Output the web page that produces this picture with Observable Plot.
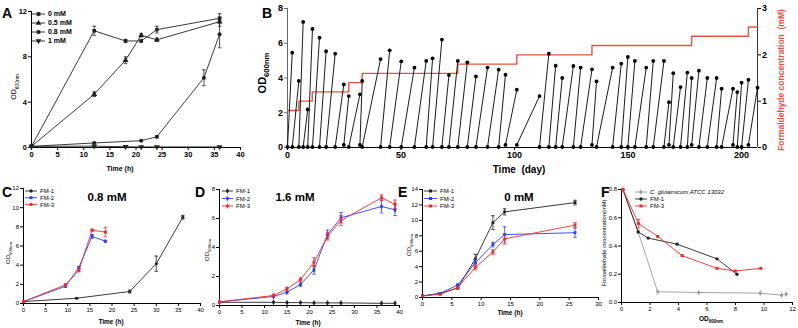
<!DOCTYPE html>
<html><head><meta charset="utf-8">
<script src="https://cdn.jsdelivr.net/npm/d3@7"></script>
<script src="https://cdn.jsdelivr.net/npm/@observablehq/plot@0.6"></script>
<style>
body{margin:0;background:#fff;}
#root{position:relative;width:798px;height:328px;overflow:hidden;background:#fff;}
</style></head><body><div id="root"></div>
<script>
// ---------- Panel A: OD600 vs time at formaldehyde levels ----------
const aTime = [0, 12, 18, 21, 24, 36];
const a0mM = [0.1, 10.3, 9.4, 9.4, 10.4, 11.4];
const a0mMErr = [0, 0.4, 0.15, 0.1, 0.3, 0.4];
const a05mM = [0.1, 4.7, 7.7, 9.9, 9.5, 11.1];
const a05mMErr = [0, 0.2, 0.3, 0.15, 0.15, 0.4];
const a08mMTime = [0, 12, 21, 24, 33, 36];
const a08mM = [0.1, 0.4, 0.6, 0.95, 6.15, 10.0];
const a08mMErr = [0, 0.05, 0.05, 0.1, 0.7, 1.2];
const a1mM = [0.1, 0.12, 0.06, 0.05, 0.05, 0.05];
const aLegend = ["0 mM", "0.5 mM", "0.8 mM", "1 mM"];

// ---------- Panel B: serial transfers ----------
const bEndDay = [2.1,5.0,6.9,8.9,11.0,14.1,17.0,21.0,24.8,27.0,
  31.9,32.9,41.0,45.0,50.1,55.9,61.1,63.9,68.0,71.1,
  75.0,79.2,83.0,88.1,93.0,96.0,101.0,111.0,115.1,118.1,
  121.0,125.9,129.1,134.1,136.1,143.2,147.0,149.9,153.0,158.0,
  161.1,165.8,168.0,169.9,173.1,176.1,178.0,181.2,184.9,189.0,
  191.2,196.2,198.1,200.0,203.0,207.0];
const bPeakOD = [5.46,3.83,7.23,2.19,6.82,6.32,5.54,5.40,3.63,2.96,
  3.06,3.83,5.09,5.59,4.96,4.60,4.98,5.13,6.21,4.17,
  4.98,4.90,4.09,4.60,4.48,4.19,3.33,2.96,5.40,4.71,
  4.00,4.69,4.60,4.50,3.81,4.60,4.83,5.21,4.98,4.60,
  4.98,4.98,2.61,4.28,3.48,4.31,4.00,4.42,4.00,4.00,
  3.38,3.38,3.19,3.73,3.90,3.44];
const bStartOD = [0.03,0.03,0.03,0.03,0.03,0.03,0.03,0.03,0.03,0.15,
  0.03,0.15,0.03,0.03,0.03,0.03,0.03,0.03,0.03,0.03,
  0.03,0.03,0.03,0.03,0.03,0.03,0.15,0.15,0.03,0.03,
  0.03,0.03,0.03,0.03,0.15,0.03,0.03,0.03,0.03,0.03,
  0.03,0.03,0.03,0.15,0.03,0.03,0.03,0.15,0.03,0.03,
  0.03,0.03,0.15,0.03,0.03,0.15];
const bConcDay = [0, 5.0, 10.9, 27.0, 32.9, 75.0, 101.0, 134.1, 178.0, 203.0, 207.0];
const bConc = [0.8, 1.0, 1.2, 1.4, 1.6, 1.8, 2.0, 2.2, 2.4, 2.6, 2.6];

// ---------- Panel C: 0.8 mM ----------
const cFM1Time = [0, 12, 24, 30, 36];
const cFM1 = [0.2, 0.55, 1.25, 4.15, 9.0];
const cFM1Err = [0, 0.05, 0.15, 0.8, 0.2];
const cFM23Time = [0, 9.5, 12.5, 15.5, 18.5];
const cFM2 = [0.2, 1.8, 3.75, 7.0, 6.5];
const cFM2Err = [0, 0.1, 0.1, 0.2, 0.1];
const cFM3 = [0.2, 1.95, 3.45, 7.65, 7.45];
const cFM3Err = [0, 0.1, 0.15, 0.1, 0.5];

// ---------- Panel D: 1.6 mM ----------
const dTime = [0, 12, 15, 18, 21, 24, 27, 36, 39];
const dFM1 = [0.22, 0.22, 0.2, 0.2, 0.18, 0.18, 0.18, 0.15, 0.15];
const dFM2 = [0.25, 0.62, 0.92, 1.45, 2.46, 4.9, 6.05, 6.83, 6.6];
const dFM2Err = [0, 0.05, 0.05, 0.1, 0.3, 0.3, 0.35, 0.45, 0.4];
const dFM3 = [0.25, 0.69, 1.15, 1.79, 2.99, 4.76, 5.86, 7.43, 6.97];
const dFM3Err = [0, 0.05, 0.08, 0.1, 0.3, 0.25, 0.35, 0.2, 0.3];

// ---------- Panel E: 0 mM ----------
const eTime = [0, 3, 6, 9, 12, 14, 26];
const eFM1 = [0.2, 0.53, 1.22, 5.0, 9.7, 11.1, 12.3];
const eFM1Err = [0, 0.05, 0.1, 0.6, 0.9, 0.4, 0.3];
const eFM2 = [0.2, 0.53, 1.63, 4.49, 6.86, 8.16, 8.4];
const eFM2Err = [0, 0.05, 0.1, 0.4, 0.3, 1.0, 0.6];
const eFM3 = [0.2, 0.41, 1.3, 3.88, 5.9, 7.6, 9.39];
const eFM3Err = [0, 0.05, 0.1, 0.3, 0.3, 0.7, 0.3];

// ---------- Panel F: formaldehyde vs OD ----------
const fWtOD = [0.1, 1.17, 2.54, 5.42, 9.74, 11.23, 11.56];
const fWt = [0.8, 0.5, 0.076, 0.071, 0.066, 0.052, 0.059];
const fFM1OD = [0.1, 1.17, 1.87, 3.9, 6.7, 8.1];
const fFM1 = [0.8, 0.5, 0.456, 0.413, 0.309, 0.2];
const fFM3OD = [0.1, 1.2, 2.54, 4.25, 6.7, 7.98, 9.78];
const fFM3 = [0.8, 0.558, 0.468, 0.332, 0.242, 0.223, 0.242];
const fFM3Err = [0, 0.03, 0, 0, 0, 0, 0];

// tick values
const ticks40 = [0,5,10,15,20,25,30,35,40];
const ticks30 = [0,5,10,15,20,25,30];

// ---------- helpers ----------
const root = document.getElementById("root");
const W = 798, H = 328;
const FONT = '"Liberation Sans", Arial, Helvetica, sans-serif';
const BLUE = "#2b3cf6", RED = "#f22a2a", GREY = "#9a9a9a", ORANGE = "#e8523c";
const sqrt3 = Math.sqrt(3);
const capSym = {draw(ctx, size) { const r = Math.sqrt(size / Math.PI); ctx.moveTo(-r, 0); ctx.lineTo(r, 0); }};
const triDown = {draw(ctx, size) {
  const y = -Math.sqrt(size / (sqrt3 * 3));
  ctx.moveTo(0, -y * 2); ctx.lineTo(-sqrt3 * y, y); ctx.lineTo(sqrt3 * y, y); ctx.closePath();
}};

function rows(xs, ys, es) { return xs.map((x, i) => ({x, y: ys[i], e: es ? es[i] : 0})); }

function errMarks(data, color, capR = 1.8) {
  const d = data.filter(v => v.e > 0);
  return [
    Plot.ruleX(d, {x: "x", y1: v => v.y - v.e, y2: v => v.y + v.e, stroke: color, strokeWidth: 0.8}),
    Plot.dot(d, {x: "x", y: v => v.y + v.e, symbol: capSym, r: capR, stroke: color, fill: "none", strokeWidth: 0.8}),
    Plot.dot(d, {x: "x", y: v => v.y - v.e, symbol: capSym, r: capR, stroke: color, fill: "none", strokeWidth: 0.8})
  ];
}
function series(data, color, symbol, r = 1.7, sw = 0.9) {
  return [
    ...errMarks(data, color),
    Plot.line(data, {x: "x", y: "y", stroke: color, strokeWidth: sw}),
    Plot.dot(data, {x: "x", y: "y", fill: color, symbol, r})
  ];
}

function panel(o) {
  const marks = [
    Plot.ruleX([o.xd[0]], {stroke: o.leftStroke || "#000", strokeWidth: 1}),
    Plot.ruleY([o.yd[0]], {stroke: "#000", strokeWidth: 1}),
    Plot.axisX(o.xt, {tickSize: 3, tickPadding: 1.5, fontSize: o.fs, fontWeight: o.fw, label: null, tickFormat: o.xf || (d => String(d))}),
    Plot.axisY(o.yt, {tickSize: 3, tickPadding: 1.5, fontSize: o.fs, fontWeight: o.fw, label: null, stroke: o.leftStroke || "#000", tickFormat: o.yf || (d => String(d))}),
    ...(o.extra || []),
    ...o.marks
  ];
  const svg = Plot.plot({
    width: W, height: H,
    marginLeft: o.x0, marginRight: W - o.x1, marginTop: o.y0, marginBottom: H - o.y1,
    x: {domain: o.xd}, y: {domain: o.yd},
    style: {background: "transparent", fontFamily: FONT, color: "#000", overflow: "visible"},
    marks
  });
  svg.style.position = "absolute"; svg.style.left = "0px"; svg.style.top = "0px";
  root.appendChild(svg);
}

// ---------- Panel A ----------
panel({
  x0: 31, x1: 240, y0: 11, y1: 147, xd: [0, 40], yd: [0, 12],
  xt: ticks40, yt: [0, 4, 8, 12], fs: 7.5, fw: "bold",
  marks: [
    ...series(rows(aTime, a1mM), "#222", triDown, 2.2),
    ...series(rows(a08mMTime, a08mM, a08mMErr), "#222", "circle", 2.0),
    ...series(rows(aTime, a05mM, a05mMErr), "#222", "triangle", 2.2),
    ...series(rows(aTime, a0mM, a0mMErr), "#222", "square", 2.0)
  ]
});

// ---------- Panel B ----------
const bSegs = bEndDay.map((e, i) => ({s: i === 0 ? 0 : bEndDay[i - 1], s0: bStartOD[i], e, p: bPeakOD[i]}));
const bConcRows = bConcDay.map((d, i) => ({d, c: bConc[i]}));
const toY = c => c * 8 / 3;
panel({
  x0: 287, x1: 757, y0: 8, y1: 147, xd: [0, 207], yd: [0, 8],
  xt: [0, 50, 100, 150, 200], yt: [0, 2, 4, 6, 8], fs: 9, fw: "bold", leftStroke: "#666",
  extra: [
    Plot.ruleX([207], {stroke: "#333", strokeWidth: 1}),
    Plot.axisY([0, 1, 2, 3].map(toY), {anchor: "right", tickSize: 3, tickPadding: 1.5, fontSize: 9, fontWeight: "bold", label: null, tickFormat: d => String(Math.round(d * 3 / 8))})
  ],
  marks: [
    Plot.line(bConcRows, {x: "d", y: v => toY(v.c), curve: "step-after", stroke: ORANGE, strokeWidth: 1.4}),
    Plot.link(bSegs, {x1: "s", y1: "s0", x2: "e", y2: "p", stroke: "#000", strokeWidth: 0.9}),
    Plot.dot(bSegs, {x: "s", y: "s0", r: 1.9, fill: "#000"}),
    Plot.dot(bSegs, {x: "e", y: "p", r: 1.9, fill: "#000"})
  ]
});

// ---------- Panel C ----------
panel({
  x0: 23, x1: 200, y0: 188, y1: 303, xd: [0, 40], yd: [0, 12],
  xt: ticks40, yt: [0, 2, 4, 6, 8, 10, 12], fs: 6, fw: "normal",
  marks: [
    ...series(rows(cFM1Time, cFM1, cFM1Err), "#222", "circle", 1.6),
    ...series(rows(cFM23Time, cFM2, cFM2Err), BLUE, "square", 1.6),
    ...series(rows(cFM23Time, cFM3, cFM3Err), RED, "square", 1.7)
  ]
});

// ---------- Panel D ----------
panel({
  x0: 219, x1: 399, y0: 189, y1: 305, xd: [0, 40], yd: [0, 8],
  xt: ticks40, yt: [0, 2, 4, 6, 8], fs: 6, fw: "normal",
  marks: [
    ...series(rows(dTime, dFM1), "#222", "diamond", 1.8),
    ...series(rows(dTime, dFM2, dFM2Err), BLUE, "diamond", 1.8),
    ...series(rows(dTime, dFM3, dFM3Err), RED, "diamond", 1.8)
  ]
});

// ---------- Panel E ----------
panel({
  x0: 422, x1: 598, y0: 189, y1: 297, xd: [0, 30], yd: [0, 14],
  xt: ticks30, yt: [0, 2, 4, 6, 8, 10, 12, 14], fs: 6, fw: "normal",
  marks: [
    ...series(rows(eTime, eFM1, eFM1Err), "#222", "square", 1.6),
    ...series(rows(eTime, eFM2, eFM2Err), BLUE, "square", 1.6),
    ...series(rows(eTime, eFM3, eFM3Err), RED, "square", 1.6)
  ]
});

// ---------- Panel F ----------
panel({
  x0: 621, x1: 792, y0: 189, y1: 302, xd: [0, 12], yd: [0, 0.8],
  xt: [0, 2, 4, 6, 8, 10, 12], yt: [0, 0.2, 0.4, 0.6, 0.8], fs: 6, fw: "normal", yf: d3.format(".1f"),
  marks: [
    ...series(rows(fWtOD, fWt), GREY, "diamond", 1.7),
    ...series(rows(fFM1OD, fFM1), "#222", "circle", 1.7),
    ...series(rows(fFM3OD, fFM3, fFM3Err), RED, "square", 1.7)
  ]
});

// ---------- annotations (text, legends) ----------
const ann = d3.select(root).append("svg").attr("width", W).attr("height", H)
  .style("position", "absolute").style("left", "0px").style("top", "0px").style("font-family", FONT);

function txt(x, y, s, o = {}) {
  const t = ann.append("text").attr("x", x).attr("y", y).text(s)
    .attr("font-size", o.size || 7).attr("font-weight", o.weight || "normal")
    .attr("text-anchor", o.anchor || "middle").attr("fill", o.fill || "#000")
    .attr("font-style", o.italic ? "italic" : "normal");
  if (o.rotate) t.attr("transform", `rotate(${o.rotate},${x},${y})`);
  return t;
}
function odLabel(cx, cy, size, weight, rotate = -90) {
  const t = ann.append("text").attr("transform", `translate(${cx},${cy}) rotate(${rotate})`)
    .attr("text-anchor", "middle").attr("font-size", size).attr("font-weight", weight).attr("dy", "0.35em");
  t.append("tspan").text("OD");
  t.append("tspan").attr("font-size", size * 0.7).attr("dy", size * 0.3).text("600nm");
  return t;
}
function legend(x, y, rowH, lineW, items, o = {}) {
  items.forEach((it, i) => {
    const cy = y + i * rowH;
    ann.append("line").attr("x1", x).attr("x2", x + lineW).attr("y1", cy).attr("y2", cy)
      .attr("stroke", it.color).attr("stroke-width", 0.9);
    ann.append("path").attr("d", d3.symbol(it.symbol, o.symSize || 9)())
      .attr("transform", `translate(${x + lineW / 2},${cy})`).attr("fill", it.color);
    ann.append("text").attr("x", x + lineW + (o.gap || 3)).attr("y", cy).attr("dy", "0.35em")
      .attr("font-size", o.size || 6).attr("font-weight", o.weight || "normal")
      .attr("font-style", it.italic ? "italic" : "normal").attr("fill", "#000").text(it.label);
  });
}

// panel letters
[["A", 2, 18], ["B", 262, 18], ["C", 2, 197], ["D", 195, 197], ["E", 398, 197], ["F", 601, 197]]
  .forEach(([s, x, y]) => txt(x, y, s, {size: 14, weight: "bold", anchor: "start"}));

// A labels
odLabel(14, 87, 7, "normal");
txt(120, 171, "Time (h)", {size: 7, weight: "bold"});
legend(32, 14, 9, 13, [
  {label: aLegend[0], color: "#222", symbol: d3.symbolSquare},
  {label: aLegend[1], color: "#222", symbol: d3.symbolTriangle},
  {label: aLegend[2], color: "#222", symbol: d3.symbolCircle},
  {label: aLegend[3], color: "#222", symbol: triDown}
], {size: 7, weight: "bold", symSize: 14});

// B labels
odLabel(262, 73, 11, "bold");
txt(519, 173, "Time\u00a0\u00a0(day)", {size: 10, weight: "bold"});
txt(784, 80, "Formaldehyde concentration\u00a0\u00a0(mM)", {size: 8.5, weight: "bold", fill: ORANGE, rotate: -90});

// C labels
txt(107, 201, "0.8 mM", {size: 11.5, weight: "bold"});
odLabel(8, 253, 6, "normal");
txt(111, 324, "Time (h)", {size: 6.5, weight: "bold"});
legend(25, 191, 6.7, 12, [
  {label: "FM-1", color: "#222", symbol: d3.symbolCircle},
  {label: "FM-2", color: BLUE, symbol: d3.symbolSquare},
  {label: "FM-3", color: RED, symbol: d3.symbolSquare}
], {size: 6});

// D labels
txt(295, 201, "1.6 mM", {size: 11.5, weight: "bold"});
odLabel(207, 250, 6, "normal");
txt(308, 325, "Time (h)", {size: 6.5, weight: "bold"});
legend(222, 191, 7.5, 11, [
  {label: "FM-1", color: "#222", symbol: d3.symbolDiamond},
  {label: "FM-2", color: BLUE, symbol: d3.symbolDiamond},
  {label: "FM-3", color: RED, symbol: d3.symbolDiamond}
], {size: 6});

// E labels
txt(519, 201, "0 mM", {size: 11.5, weight: "bold"});
odLabel(409, 245, 6, "normal");
txt(510, 315, "Time (h)", {size: 6.5, weight: "bold"});
legend(424, 191, 7.5, 13, [
  {label: "FM-1", color: "#222", symbol: d3.symbolSquare},
  {label: "FM-2", color: BLUE, symbol: d3.symbolSquare},
  {label: "FM-3", color: RED, symbol: d3.symbolSquare}
], {size: 6});

// F labels
txt(606, 243, "Formaldehyde concentration(mM)", {size: 5.8, rotate: -90});
odLabel(711, 319, 6.5, "bold", 0);
legend(635, 192, 7, 12, [
  {label: "C. glutamicum ATCC 13032", color: GREY, symbol: d3.symbolDiamond, italic: true},
  {label: "FM-1", color: "#222", symbol: d3.symbolCircle},
  {label: "FM-3", color: RED, symbol: d3.symbolSquare}
], {size: 6});
</script></body></html>
